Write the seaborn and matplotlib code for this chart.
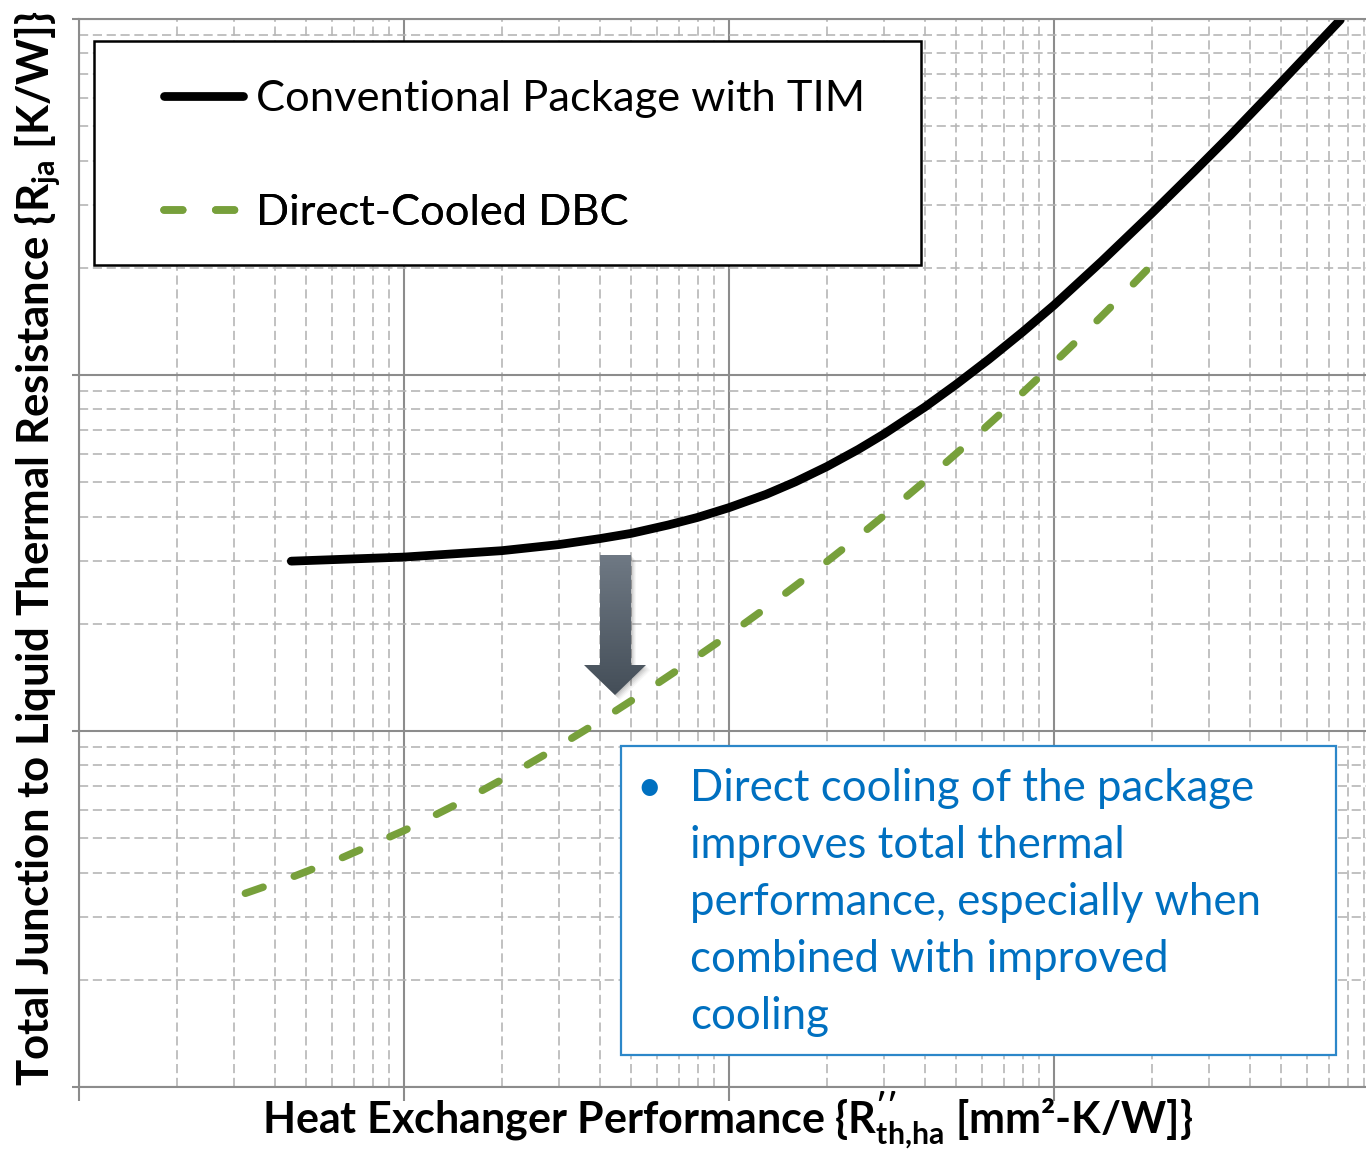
import numpy as np
import pandas as pd
import matplotlib
matplotlib.use("Agg")
import matplotlib.pyplot as plt
import matplotlib.transforms as mtransforms
from matplotlib.patches import Polygon, Rectangle
from matplotlib.ticker import LogLocator, NullFormatter
from matplotlib.colors import LinearSegmentedColormap
import seaborn as sns

# ---- data -------------------------------------------------------------
# heat-exchanger performance R''_th,ha [mm^2-K/W] vs. total R_ja [K/W]
conv_x = [4.5, 10, 20, 30, 40, 50, 65, 80, 100, 130, 160, 200, 250, 300,
          400, 500, 630, 800, 1000, 1400, 2000, 2700, 3500, 5000, 7600]
conv_y = [0.300, 0.308, 0.321, 0.334, 0.347, 0.359, 0.379, 0.398, 0.424,
          0.462, 0.501, 0.553, 0.618, 0.683, 0.812, 0.941, 1.106, 1.320,
          1.571, 2.084, 2.847, 3.73, 4.73, 6.64, 9.94]

dbc_x = [3.25, 4.5, 6.5, 10, 15, 20, 28, 40, 53, 72, 100, 135, 180, 240,
         300, 400, 530, 690, 905, 1180, 1530, 2080]
dbc_y = [0.0350, 0.0388, 0.0442, 0.0525, 0.0632, 0.0730, 0.0873, 0.1066,
         0.1258, 0.1517, 0.1865, 0.2274, 0.2773, 0.341, 0.403, 0.503,
         0.630, 0.784, 0.991, 1.251, 1.585, 2.115]

series_labels = ["Conventional Package with TIM", "Direct-Cooled DBC"]
x_label = r"Heat Exchanger Performance {R$^{\prime\prime}_{th{,}ha}$ [mm²-K/W]}"
y_label = "Total Junction to Liquid Thermal Resistance {R$_{ja}$ [K/W]}"
note_lines = ["Direct cooling of the package",
              "improves total thermal",
              "performance, especially when",
              "combined with improved",
              "cooling"]

# ---- style ------------------------------------------------------------
W, H, DPI = 1366, 1149, 100
sns.set_theme(style="white")
plt.rcParams["font.family"] = ["Lato", "DejaVu Sans"]
plt.rcParams["mathtext.fontset"] = "custom"
plt.rcParams["mathtext.rm"] = "Lato"
plt.rcParams["mathtext.bf"] = "Lato:bold"
plt.rcParams["mathtext.it"] = "Lato:italic"
plt.rcParams["mathtext.default"] = "regular"

BLACK = "#000000"
GREEN = "#77A03B"
GRID_MAJ = "#8c8c8c"
GRID_MIN = "#b6b6b6"
NOTE_BLUE = "#0070C0"
BOX_BLUE = "#2c87c9"

fig = plt.figure(figsize=(W / DPI, H / DPI), dpi=DPI)
fig.patch.set_facecolor("white")

# plot area in pixel units (right edge runs just past the canvas)
AX_L, AX_R, AX_T, AX_B = 79, 1379, 19, 1087
ax = fig.add_axes([AX_L / W, (H - AX_B) / H, (AX_R - AX_L) / W, (AX_B - AX_T) / H])
ax.set_xscale("log")
ax.set_yscale("log")

conv = pd.DataFrame({"x": conv_x, "y": conv_y})
dbc = pd.DataFrame({"x": dbc_x, "y": dbc_y})

sns.lineplot(data=conv, x="x", y="y", ax=ax, color=BLACK, lw=6.3,
             solid_capstyle="round", solid_joinstyle="round", sort=False,
             estimator=None, errorbar=None, legend=False,
             label=series_labels[0])
sns.lineplot(data=dbc, x="x", y="y", ax=ax, color=GREEN, lw=5.4,
             linestyle=(0, (2.5, 4.4)), dash_capstyle="round", sort=False,
             estimator=None, errorbar=None, legend=False,
             label=series_labels[1])

ax.set_xlim(1, 1e4)
ax.set_ylim(0.01, 10)
ax.set_xlabel("")
ax.set_ylabel("")
for axis in (ax.xaxis, ax.yaxis):
    axis.set_major_locator(LogLocator(base=10, numticks=12))
    axis.set_minor_locator(LogLocator(base=10, subs=np.arange(2, 10), numticks=40))
    axis.set_major_formatter(NullFormatter())
    axis.set_minor_formatter(NullFormatter())

ax.grid(which="major", color=GRID_MAJ, lw=1.5, ls="-")
ax.grid(which="minor", color=GRID_MIN, lw=1.2, ls=(0, (5.5, 2.8)))
ax.set_axisbelow(True)
ax.tick_params(axis="x", which="major", bottom=True, direction="out",
               length=10, width=1.5, color=GRID_MAJ)
ax.tick_params(axis="y", which="major", left=True, direction="out",
               length=5, width=1.5, color=GRID_MAJ)
ax.tick_params(which="minor", length=0)
for sp in ax.spines.values():
    sp.set_color(GRID_MAJ)
    sp.set_linewidth(1.5)

# pixel-space helper transform (origin top-left)
pix = mtransforms.Affine2D().scale(1 / W, -1 / H).translate(0, 1) + fig.transFigure
renderer = fig.canvas.get_renderer()


def text_width(s, size, **kw):
    t = fig.text(0, 0, s, fontsize=size, **kw)
    w = t.get_window_extent(renderer).width
    t.remove()
    return w


# ---- legend -----------------------------------------------------------
leg_fs = 30 * 607 / text_width(series_labels[0], 30)
fs_px = leg_fs * DPI / 72
ax.add_patch(Rectangle((94, 41), 827, 224, transform=pix, facecolor="white",
                       edgecolor="black", lw=1.8, zorder=4.5, clip_on=False))
lines = ax.get_lines()
for line, lab, yrow in zip(lines, series_labels, [99, 213]):
    lg = ax.legend([line], [lab], loc="center left", bbox_to_anchor=(164, yrow),
                   bbox_transform=pix, frameon=False, fontsize=leg_fs,
                   handlelength=79 / fs_px, handletextpad=13 / fs_px,
                   borderpad=0, borderaxespad=0)
    for t in lg.get_texts():
        t.set_color("black")
    ax.add_artist(lg)

# ---- overlay in pixel coordinates ---------------------------------------
ov = fig.add_axes([0, 0, 1, 1])
ov.patch.set_alpha(0)
ov.axis("off")

# down arrow with soft shadow and vertical gradient
arrow_pts = [(600, 555), (631, 555), (631, 665), (646, 665), (615, 695),
             (584, 665), (600, 665)]
for k, a in zip(range(1, 6), [0.07, 0.06, 0.05, 0.04, 0.03]):
    ov.add_patch(Polygon([(x + k, y + k) for x, y in arrow_pts], closed=True,
                         facecolor="black", edgecolor="none", alpha=a, zorder=3))
arrow = Polygon(arrow_pts, closed=True, facecolor="none", edgecolor="none", zorder=4)
ov.add_patch(arrow)
cmap = LinearSegmentedColormap.from_list("arrow", ["#6f7984", "#444e58"])
grad = np.linspace(0, 1, 256).reshape(-1, 1)
img = ov.imshow(grad, extent=[584, 646, 695, 555], cmap=cmap, aspect="auto",
                zorder=4, interpolation="bilinear")
img.set_clip_path(arrow)

# note box
ov.add_patch(Rectangle((621, 746), 715, 309, facecolor="white",
                       edgecolor=BOX_BLUE, lw=1.6, zorder=5))
note_fs = 30 * 562 / text_width(note_lines[0], 30)
for i, ln in enumerate(note_lines):
    ov.text(690, 801 + 57 * i, ln, fontsize=note_fs, color=NOTE_BLUE,
            ha="left", va="baseline", zorder=6)
ov.text(649, 801, "•", fontsize=note_fs, color=NOTE_BLUE, ha="center",
        va="baseline", zorder=6)

# axis titles
xl_fs = 30 * 930 / text_width(x_label, 30, fontweight="bold")
ov.text(728, 1133, x_label, fontsize=xl_fs, fontweight="bold", color="black",
        ha="center", va="baseline")
yl_fs = 30 * 1075 / text_width(y_label, 30, fontweight="bold")
ov.text(38, 548, y_label, fontsize=yl_fs, fontweight="bold", color="black",
        ha="center", va="center", rotation=90)

ov.set_xlim(0, W)
ov.set_ylim(H, 0)

fig.savefig("out.png", dpi=DPI)
